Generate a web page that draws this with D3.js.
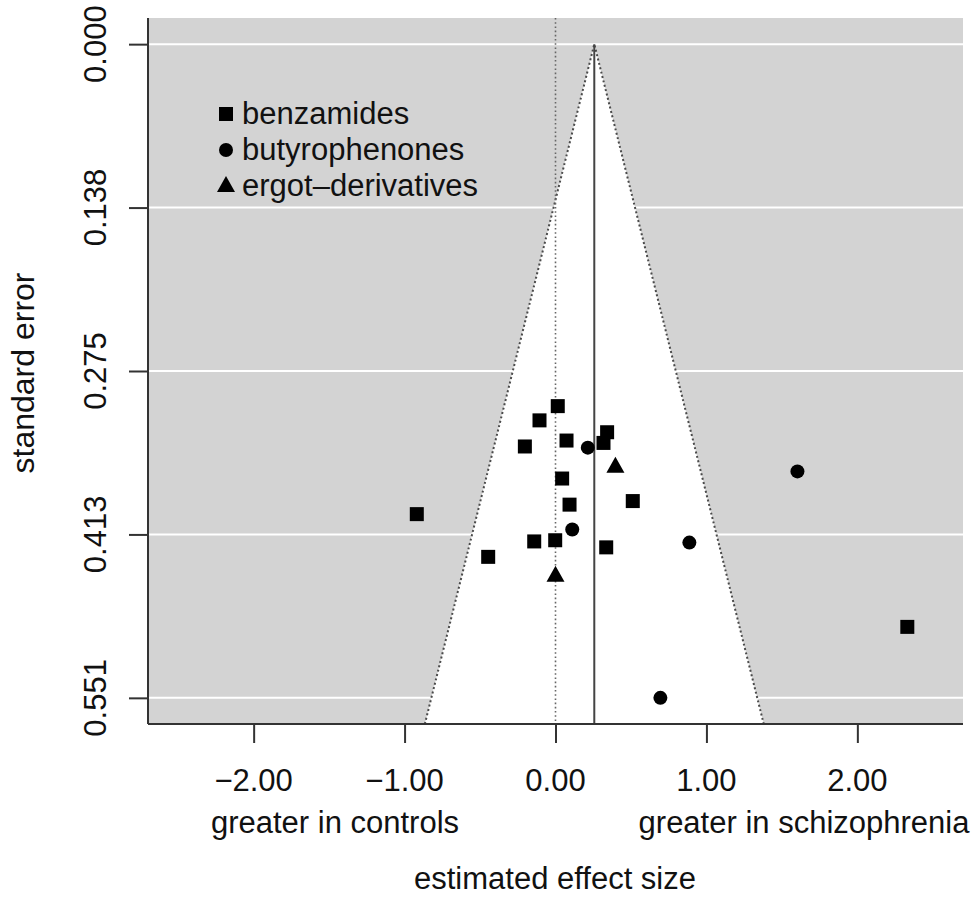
<!DOCTYPE html>
<html>
<head>
<meta charset="utf-8">
<script src="https://cdn.jsdelivr.net/npm/d3@7"></script>
<style>
  html, body { margin: 0; padding: 0; background: #fff; }
  svg { display: block; font-family: "Liberation Sans", Arial, Helvetica, sans-serif; }
</style>
</head>
<body>
<svg id="chart" width="977" height="898"></svg>
<script>
// Study estimates (effect size, standard error) per drug class
const benzamidesEffect = [0.015, -0.106, -0.203, 0.073, 0.342, 0.318, 0.044, 0.093, 0.512, -0.919, -0.141, -0.002, 0.336, -0.446, 2.331];
const benzamidesSE     = [0.305, 0.317, 0.339, 0.334, 0.327, 0.336, 0.366, 0.388, 0.385, 0.396, 0.419, 0.418, 0.424, 0.432, 0.491];
const butyrophenonesEffect = [0.214, 1.603, 0.111, 0.887, 0.695];
const butyrophenonesSE     = [0.340, 0.360, 0.409, 0.420, 0.5508];
const ergotEffect = [0.397, 0.000];
const ergotSE     = [0.356, 0.448];

const groupNames = ["benzamides", "butyrophenones", "ergot\u2013derivatives"];
const groupShapes = ["square", "circle", "triangle"];

// Pooled estimate and axis ticks
const pooledEffect = 0.257;
const maxSE = 0.5508;
const seTicks = [0, maxSE / 4, maxSE / 2, maxSE * 3 / 4, maxSE];
const effectTicks = [-2, -1, 0, 1, 2];

const svg = d3.select("#chart");
const plot = { left: 148, right: 963, top: 18, bottom: 724 };
const textColor = "#111";

const x = d3.scaleLinear().domain([-2.70, 2.70]).range([plot.left, plot.right]);
const y = d3.scaleLinear().domain([-0.04 * maxSE, maxSE * 1.04]).range([plot.top, plot.bottom]);
const seBottom = y.domain()[1];

// Panel background
svg.append("rect")
  .attr("x", plot.left).attr("y", plot.top)
  .attr("width", plot.right - plot.left).attr("height", plot.bottom - plot.top)
  .attr("fill", "#d3d3d3");

svg.append("clipPath").attr("id", "clip")
  .append("rect")
  .attr("x", plot.left).attr("y", plot.top)
  .attr("width", plot.right - plot.left).attr("height", plot.bottom - plot.top);

const g = svg.append("g").attr("clip-path", "url(#clip)");

// Horizontal grid lines at the standard-error ticks
g.selectAll("line.grid").data(seTicks).join("line")
  .attr("class", "grid")
  .attr("x1", plot.left).attr("x2", plot.right)
  .attr("y1", d => y(d)).attr("y2", d => y(d))
  .attr("stroke", "#fff").attr("stroke-width", 2);

// Pseudo-confidence funnel (95%)
const funnel = [
  [pooledEffect - 1.96 * seBottom, seBottom],
  [pooledEffect, 0],
  [pooledEffect + 1.96 * seBottom, seBottom]
];
const funnelLine = d3.line().x(d => x(d[0])).y(d => y(d[1]));
g.append("path")
  .attr("d", funnelLine(funnel) + "Z")
  .attr("fill", "#fff");
g.append("path")
  .attr("d", funnelLine(funnel))
  .attr("fill", "none")
  .attr("stroke", "#4a4a4a").attr("stroke-width", 2)
  .attr("stroke-dasharray", "2,2.5");

// Reference line at zero
g.append("line")
  .attr("x1", x(0)).attr("x2", x(0))
  .attr("y1", plot.top).attr("y2", plot.bottom)
  .attr("stroke", "#666").attr("stroke-width", 1.6)
  .attr("stroke-dasharray", "1.6,2.6");

// Pooled estimate line
g.append("line")
  .attr("x1", x(pooledEffect)).attr("x2", x(pooledEffect))
  .attr("y1", y(0)).attr("y2", plot.bottom)
  .attr("stroke", "#444").attr("stroke-width", 2);

// Marker shapes
function drawMarker(sel, shape) {
  if (shape === "square") {
    sel.append("rect").attr("x", -7).attr("y", -7).attr("width", 14).attr("height", 14);
  } else if (shape === "circle") {
    sel.append("circle").attr("r", 7);
  } else {
    sel.append("path").attr("d", "M0,-10L9,6L-9,6Z");
  }
}

const groups = [
  { effect: benzamidesEffect, se: benzamidesSE, shape: groupShapes[0] },
  { effect: butyrophenonesEffect, se: butyrophenonesSE, shape: groupShapes[1] },
  { effect: ergotEffect, se: ergotSE, shape: groupShapes[2] }
];

groups.forEach(grp => {
  const pts = grp.effect.map((e, i) => ({ e, s: grp.se[i] }));
  g.selectAll(null).data(pts).join("g")
    .attr("transform", d => `translate(${x(d.e)},${y(d.s)})`)
    .attr("fill", "#000")
    .each(function () { drawMarker(d3.select(this), grp.shape); });
});

// Axes
const axisColor = "#333";
const fmtEffect = d => (d < 0 ? "\u2212" : "") + Math.abs(d).toFixed(2);

const xAxis = svg.append("g").attr("transform", `translate(0,${plot.bottom})`)
  .call(d3.axisBottom(x).tickValues(effectTicks).tickSize(19).tickFormat(""));
xAxis.select(".domain").attr("d", `M${plot.left},0H${plot.right}`);
xAxis.selectAll("line, path").attr("stroke", axisColor).attr("stroke-width", 2);

svg.selectAll("text.xtick").data(effectTicks).join("text")
  .attr("class", "xtick")
  .attr("x", d => x(d)).attr("y", 791)
  .attr("text-anchor", "middle")
  .attr("font-size", 31).attr("fill", textColor)
  .text(fmtEffect);

const yAxis = svg.append("g").attr("transform", `translate(${plot.left},0)`)
  .call(d3.axisLeft(y).tickValues(seTicks).tickSize(19).tickFormat(""));
yAxis.select(".domain").attr("d", `M0,${plot.top}V${plot.bottom}`);
yAxis.selectAll("line, path").attr("stroke", axisColor).attr("stroke-width", 2);

svg.selectAll("text.ytick").data(seTicks).join("text")
  .attr("class", "ytick")
  .attr("transform", d => `translate(106,${y(d)}) rotate(-90)`)
  .attr("text-anchor", "middle")
  .attr("font-size", 31).attr("fill", textColor)
  .text(d => d.toFixed(3));

// Axis titles
svg.append("text")
  .attr("transform", `translate(34,${(plot.top + plot.bottom) / 2 + 2}) rotate(-90)`)
  .attr("text-anchor", "middle")
  .attr("font-size", 32).attr("fill", textColor)
  .text("standard error");

svg.append("text")
  .attr("x", 335).attr("y", 833)
  .attr("text-anchor", "middle")
  .attr("font-size", 31).attr("fill", textColor)
  .text("greater in controls");

svg.append("text")
  .attr("x", 804).attr("y", 833)
  .attr("text-anchor", "middle")
  .attr("font-size", 31).attr("fill", textColor)
  .text("greater in schizophrenia");

svg.append("text")
  .attr("x", 555).attr("y", 889)
  .attr("text-anchor", "middle")
  .attr("font-size", 31).attr("fill", textColor)
  .text("estimated effect size");

// Legend
const legend = svg.append("g");
groupNames.forEach((name, i) => {
  const row = legend.append("g").attr("transform", `translate(226,${114 + i * 36})`);
  const m = row.append("g").attr("fill", "#000");
  drawMarker(m, groupShapes[i]);
  row.append("text")
    .attr("x", 16).attr("y", 10)
    .attr("font-size", 31).attr("fill", textColor)
    .text(name);
});
</script>
</body>
</html>
